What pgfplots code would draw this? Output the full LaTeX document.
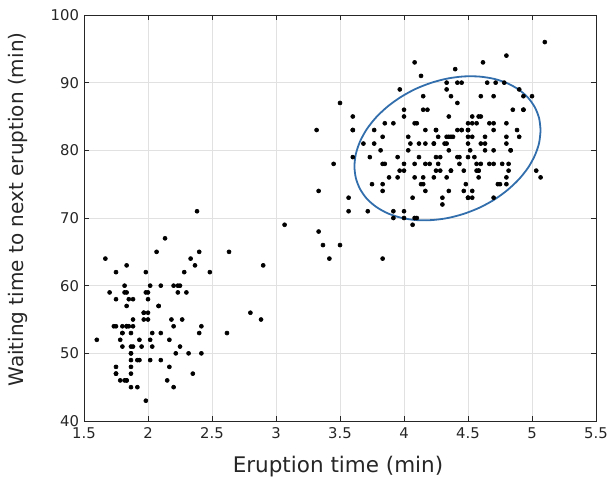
\documentclass[border=0pt]{standalone}
\usepackage{fontspec}
\setmainfont{DejaVu Sans}
\usepackage{pgfplots}
\pgfplotsset{compat=1.18}
\definecolor{ellc}{RGB}{50,110,172}
\definecolor{axc}{RGB}{38,38,38}
\definecolor{gridc}{RGB}{225,225,225}
\begin{document}
\begin{tikzpicture}[x=1pt,y=1pt]
\path[use as bounding box] (0,0) rectangle (609,480);
\begin{axis}[
  at={(84pt,59pt)}, anchor=south west,
  scale only axis, width=512pt, height=406pt,
  xmin=1.5, xmax=5.5, ymin=40, ymax=100,
  xtick={1.5,2,2.5,3,3.5,4,4.5,5,5.5},
  ytick={40,50,60,70,80,90,100},
  grid=major, grid style={color=gridc, line width=0.6pt},
  axis line style={color=axc, line width=0.8pt},
  tick style={color=axc, line width=0.8pt},
  major tick length=5pt, tick align=inside,
  /pgf/number format/assume math mode=true,
  tick label style={font=\fontsize{14.8}{16}\selectfont, color=axc},
  xticklabel style={yshift=-3pt},
  yticklabel style={xshift=-1.5pt},
  clip=false,
]
\addplot[only marks, mark=*, color=black, mark options={scale=1, line width=0.6pt, fill=black, draw=black}, mark size=2pt] table {
3.600 79
1.800 54
3.333 74
2.283 62
4.533 85
2.883 55
4.700 88
3.600 85
1.950 51
4.350 85
1.833 54
3.917 84
4.200 78
1.750 47
4.700 83
2.167 52
1.750 62
4.800 84
1.600 52
4.250 79
1.800 51
1.750 47
3.450 78
3.067 69
4.533 74
3.600 83
1.967 55
4.083 76
3.850 78
4.433 79
4.300 73
4.467 77
3.367 66
4.033 80
3.833 74
2.017 52
1.867 48
4.833 80
1.833 59
4.783 90
4.350 80
1.883 58
4.567 84
1.750 58
4.533 73
3.317 83
3.833 64
2.100 53
4.633 82
2.000 59
4.800 75
4.716 90
1.833 54
4.833 80
1.733 54
4.883 83
3.717 71
1.667 64
4.567 77
4.317 81
2.233 59
4.500 84
1.750 48
4.800 82
1.817 60
4.400 92
4.167 78
4.700 78
2.067 65
4.700 73
4.033 82
1.967 56
4.500 79
4.000 71
1.983 62
5.067 76
2.017 60
4.567 78
3.883 76
3.600 83
4.133 75
4.333 82
4.100 70
2.633 65
4.067 73
4.933 88
3.950 76
4.517 80
2.167 48
4.000 86
2.200 60
4.333 90
1.867 50
4.817 78
1.833 63
4.300 72
4.667 84
3.750 75
1.867 51
4.900 82
2.483 62
4.367 88
2.100 49
4.500 83
4.050 81
1.867 47
4.700 84
1.783 52
4.850 86
3.683 81
4.733 75
2.300 59
4.900 89
4.417 79
1.700 59
4.633 81
2.317 50
4.600 85
1.817 59
4.417 87
2.617 53
4.067 69
4.250 77
1.967 56
4.600 88
3.767 81
1.917 45
4.500 82
2.267 55
4.650 90
1.867 45
4.167 83
2.800 56
4.333 89
1.833 46
4.383 82
1.883 51
4.933 86
2.033 53
3.733 79
4.233 81
2.233 60
4.533 82
4.817 77
4.333 76
1.983 59
4.633 80
2.017 49
5.100 96
1.800 53
5.033 77
4.000 77
2.400 65
4.600 81
3.567 71
4.000 70
4.500 81
4.083 93
1.800 53
3.967 89
2.200 45
4.150 86
2.000 58
3.833 78
3.500 66
4.583 76
2.367 63
5.000 88
1.933 52
4.617 93
1.917 49
2.083 57
4.583 77
3.333 68
4.167 81
4.333 81
4.500 73
2.417 50
4.000 85
4.167 74
1.883 55
4.583 77
4.250 83
3.767 83
2.033 51
4.433 78
4.083 84
1.833 46
4.417 83
2.183 55
4.800 81
1.833 57
4.800 76
4.100 84
3.966 77
4.233 81
3.500 87
4.366 77
2.250 51
4.667 78
2.100 60
4.350 82
4.133 91
1.867 53
4.600 78
1.783 46
4.367 77
3.850 84
1.933 49
4.500 83
2.383 71
4.700 80
1.867 49
3.833 75
3.417 64
4.233 76
2.400 53
4.800 94
2.000 55
4.150 76
1.867 50
4.267 82
1.750 54
4.483 75
4.000 78
4.117 79
4.083 78
4.267 78
3.917 70
4.550 79
4.083 70
2.417 54
4.183 86
2.217 50
4.450 90
1.883 54
1.850 54
4.283 77
3.950 79
2.333 64
4.150 75
2.350 47
4.933 86
2.900 63
4.583 85
3.833 82
2.083 57
4.367 82
2.133 67
4.350 74
2.200 54
4.450 83
3.567 73
4.500 73
4.150 88
3.817 80
3.917 71
4.450 83
2.000 56
4.283 79
4.767 78
4.533 84
1.850 58
4.250 83
1.983 43
2.250 60
4.750 75
4.117 81
2.150 46
4.417 90
1.817 46
4.467 74
};
\addplot[smooth, color=ellc, line width=1.8pt] coordinates {
(5.067,82.96) (5.056,84.71) (5.023,86.33) (4.970,87.76) (4.897,88.97)
(4.807,89.91) (4.704,90.56) (4.589,90.90) (4.466,90.92) (4.340,90.61)
(4.214,89.99) (4.091,89.08) (3.977,87.90) (3.873,86.49) (3.783,84.89)
(3.710,83.15) (3.657,81.33) (3.624,79.47) (3.613,77.64) (3.624,75.89)
(3.657,74.27) (3.710,72.84) (3.783,71.64) (3.873,70.69) (3.977,70.04)
(4.091,69.70) (4.214,69.69) (4.340,69.99) (4.466,70.61) (4.589,71.52)
(4.704,72.70) (4.807,74.11) (4.897,75.71) (4.970,77.45) (5.023,79.27)
(5.056,81.13) (5.067,82.96)
};
\end{axis}
\node[anchor=base, font=\fontsize{21.5}{24}\selectfont, text=axc] at (338,7.7) {Eruption time (min)};
\node[anchor=base, rotate=90, font=\fontsize{20}{24}\selectfont, text=axc] at (23,270.5) {Waiting time to next eruption (min)};
\end{tikzpicture}
\end{document}
